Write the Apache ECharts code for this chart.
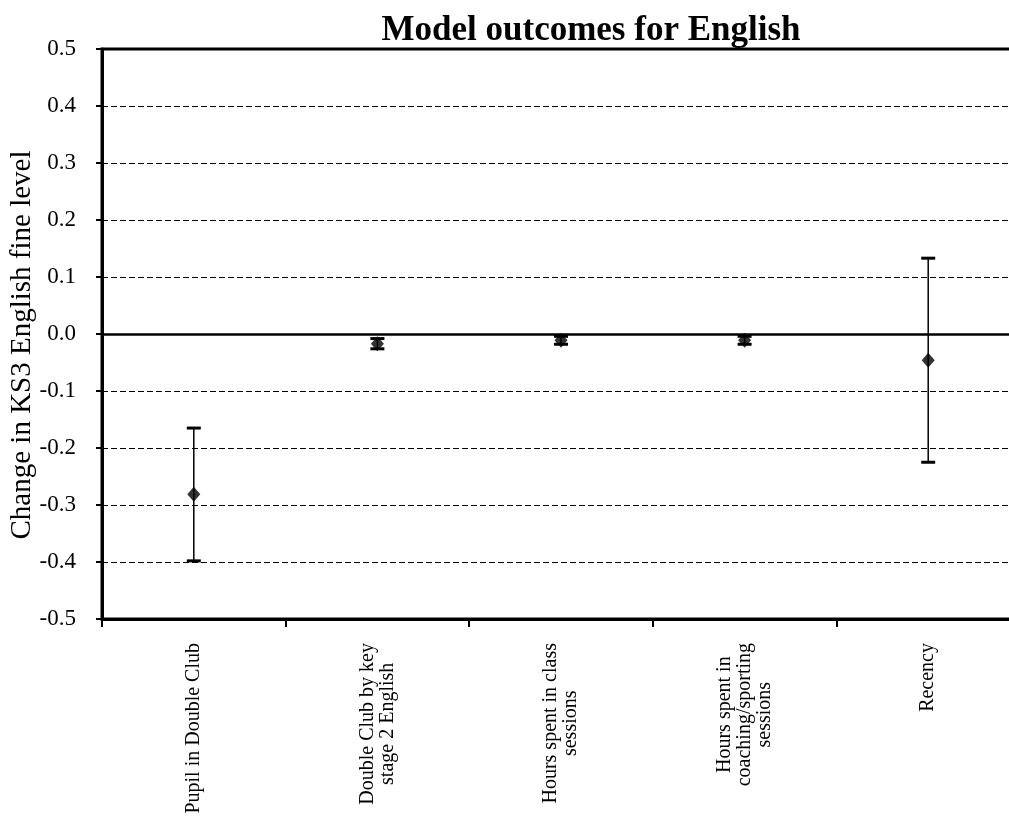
<!DOCTYPE html>
<html>
<head>
<meta charset="utf-8">
<script src="https://cdn.jsdelivr.net/npm/echarts@6/dist/echarts.min.js"></script>
<style>html,body{margin:0;padding:0;background:#fff;}#c{width:1009px;height:825px;}</style>
</head>
<body>
<div id="c"></div>
<script>
const categories = [
  'Pupil in Double Club',
  'Double Club by key\nstage 2 English',
  'Hours spent in class\nsessions',
  'Hours spent in\ncoaching/sporting\nsessions',
  'Recency'
];
const estimates = [-0.281, -0.017, -0.011, -0.011, -0.046];
const lowerBounds = [-0.398, -0.026, -0.018, -0.018, -0.225];
const upperBounds = [-0.165, -0.008, -0.004, -0.004, 0.133];
const yTicks = [-0.5, -0.4, -0.3, -0.2, -0.1, 0.0, 0.1, 0.2, 0.3, 0.4, 0.5];
const yTitle = 'Change in KS3 English fine level';

const serif = '"Liberation Serif", "DejaVu Serif", serif';
const errData = categories.map((c, i) => [i, lowerBounds[i], upperBounds[i]]);
const ptData = categories.map((c, i) => [i, estimates[i]]);

const chart = echarts.init(document.getElementById('c'), null, {renderer: 'canvas'});
chart.setOption({
  animation: false,
  backgroundColor: '#fff',
  title: {
    text: 'Model outcomes for English',
    left: 586, top: 8, textAlign: 'center',
    textStyle: {fontFamily: serif, fontWeight: 'bold', fontSize: 35, color: '#000'}
  },
  graphic: [{
    type: 'text',
    x: 22, y: 345, rotation: Math.PI / 2,
    style: {text: yTitle, fontFamily: serif, fontSize: 29, fill: '#000', textAlign: 'center', textVerticalAlign: 'middle'}
  }],
  grid: {left: 102, width: 918, top: 49, height: 570, outerBoundsMode: 'none', containLabel: false,
         show: true, borderColor: '#000', borderWidth: 3},
  xAxis: {
    type: 'category',
    data: categories,
    boundaryGap: true,
    axisLine: {onZero: false, lineStyle: {color: '#000', width: 3}},
    axisTick: {show: true, length: 8, lineStyle: {color: '#000', width: 2}},
    axisLabel: {
      rotate: 90, margin: 24, interval: 0,
      fontFamily: serif, fontSize: 20, color: '#000',
      formatter: v => v.split('\n').map(s => '{a|' + s + '}').join('\n'),
      rich: {a: {align: 'center', fontFamily: serif, fontSize: 20, color: '#000', lineHeight: 20}}
    },
    splitLine: {show: false}
  },
  yAxis: {
    type: 'value',
    min: -0.5, max: 0.5, interval: 0.1,
    axisLine: {show: true, lineStyle: {color: '#000', width: 3}},
    axisTick: {show: true, inside: false, length: 6, lineStyle: {color: '#000', width: 2}},
    axisLabel: {
      margin: 26, fontFamily: serif, fontSize: 23, color: '#000',
      formatter: v => {
        const t = yTicks.reduce((a, b) => Math.abs(b - v) < Math.abs(a - v) ? b : a);
        return t.toFixed(1);
      }
    },
    splitLine: {show: true, lineStyle: {color: '#000', width: 1, type: [6, 3]}}
  },
  series: [
    {
      type: 'custom',
      data: errData,
      z: 3,
      renderItem: (params, api) => {
        const x = api.value(0);
        const lo = api.coord([x, api.value(1)]);
        const hi = api.coord([x, api.value(2)]);
        const hw = 7;
        return {
          type: 'group',
          children: [
            {type: 'line', shape: {x1: lo[0], y1: lo[1], x2: hi[0], y2: hi[1]}, style: {stroke: '#000', lineWidth: 1.5}},
            {type: 'line', shape: {x1: lo[0] - hw, y1: lo[1], x2: lo[0] + hw, y2: lo[1]}, style: {stroke: '#000', lineWidth: 3}},
            {type: 'line', shape: {x1: hi[0] - hw, y1: hi[1], x2: hi[0] + hw, y2: hi[1]}, style: {stroke: '#000', lineWidth: 3}}
          ]
        };
      }
    },
    {
      type: 'scatter',
      data: ptData,
      symbol: 'diamond',
      symbolSize: [13, 15],
      z: 4,
      itemStyle: {color: '#000'},
      markLine: {
        silent: true,
        symbol: 'none',
        z: 2,
        label: {show: false},
        lineStyle: {color: '#000', width: 2.5, type: 'solid'},
        data: [{yAxis: 0}]
      }
    }
  ]
});
</script>
</body>
</html>
